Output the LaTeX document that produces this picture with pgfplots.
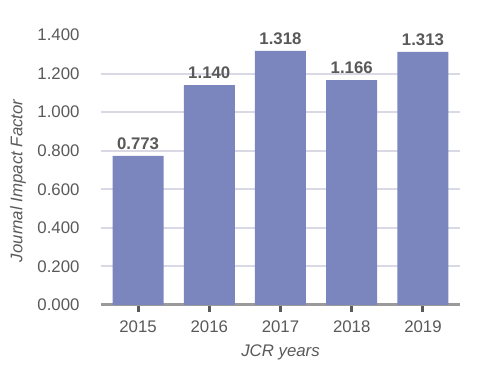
\documentclass[border=0pt]{standalone}
\usepackage{fontspec}
\setmainfont{Liberation Sans}
\usepackage{pgfplots}
\pgfplotsset{compat=1.18}
\definecolor{barc}{HTML}{7B86BF}
\definecolor{gridc}{HTML}{D9D9E6}
\definecolor{txt}{HTML}{595959}
\definecolor{axc}{HTML}{9A9A9A}
\definecolor{tickc}{HTML}{5A5A5A}
\begin{document}
\begin{tikzpicture}[x=1pt,y=1pt]
\useasboundingbox (0,0) rectangle (488,366);
\begin{axis}[
 at={(101pt,61pt)}, anchor=south west,
 scale only axis, width=359pt, height=270pt,
 xmin=-0.52, xmax=4.52, ymin=0, ymax=1.4,
 axis x line*=bottom, axis y line*=left,
 x axis line style={draw=axc, line width=3pt, -},
 y axis line style={draw=none},
 xtick={0,1,2,3,4}, xticklabels={2015,2016,2017,2018,2019},
 x tick style={draw=tickc, line width=3pt},
 tick align=outside, major tick length=7pt,
 y tick style={draw=none},
 ytick={0,0.2,0.4,0.6,0.8,1.0,1.2},
 extra y ticks={1.4}, extra y tick style={grid=none},
 ymajorgrids, grid style={draw=gridc, line width=2pt},
 /pgf/number format/.cd, fixed, fixed zerofill, precision=3, assume math mode=true,
 /pgfplots/.cd,
 ticklabel style={font=\fontsize{16.8}{19}\selectfont, text=txt},
 yticklabel style={xshift=-11pt},
 xticklabel style={yshift=-5pt},
 xlabel={JCR years}, ylabel={Journal Impact Factor},
 every axis x label/.style={at={(axis description cs:0.5,-0.174)}, anchor=center, font=\fontsize{16.8}{19}\selectfont\itshape, text=txt},
 every axis y label/.style={at={(axis description cs:-0.231,0.46)}, anchor=center, rotate=90, font=\fontsize{16.8}{19}\selectfont\itshape, text=txt},
 ybar, bar width=51pt,
 nodes near coords,
 every node near coord/.append style={font=\fontsize{16.8}{19}\selectfont\bfseries, text=txt, /pgf/number format/fixed, /pgf/number format/fixed zerofill, /pgf/number format/precision=3, yshift=3pt},
 clip=false,
]
\addplot[fill=barc, draw=none] coordinates {(0,0.773) (1,1.140) (2,1.318) (3,1.166) (4,1.313)};
\end{axis}
\end{tikzpicture}
\end{document}
